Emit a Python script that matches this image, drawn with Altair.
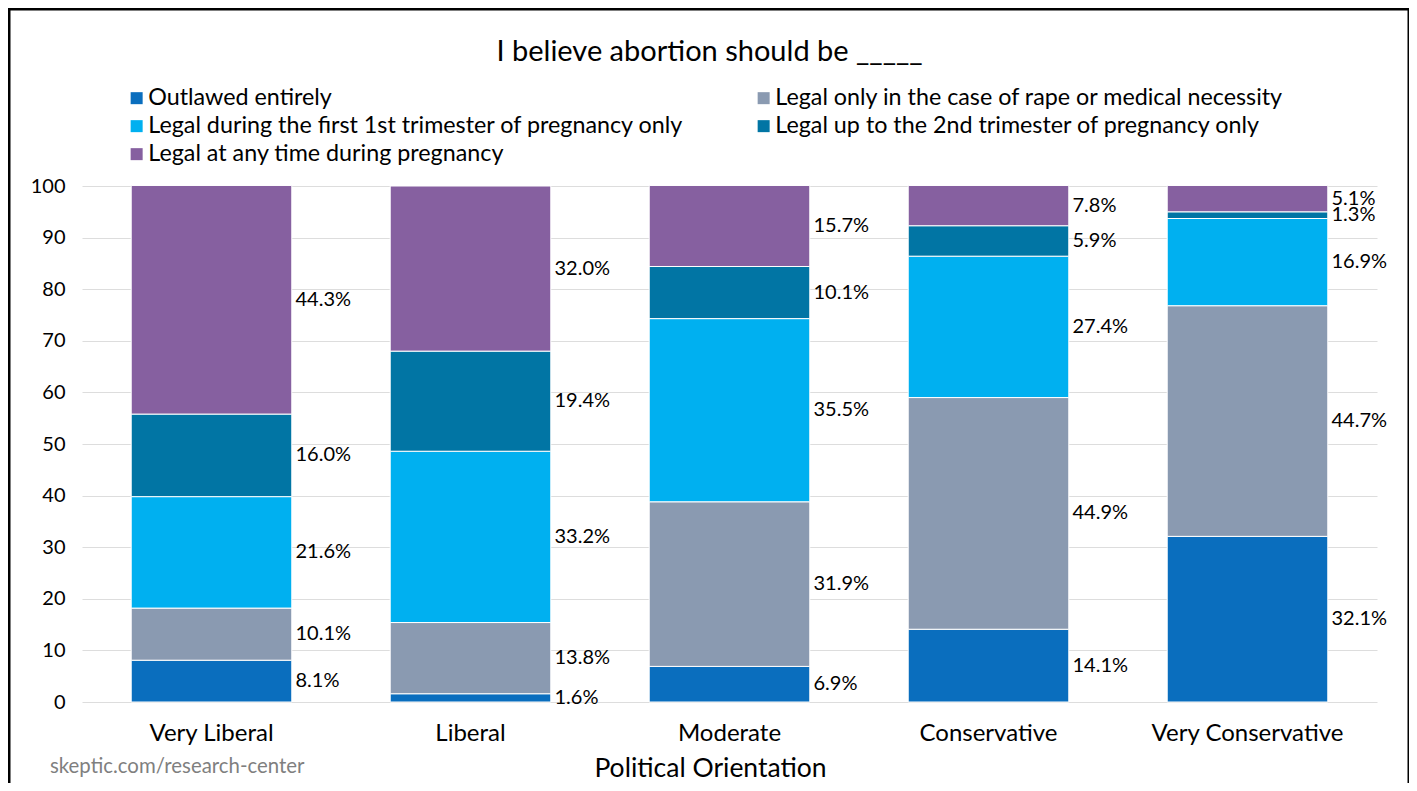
import altair as alt
import pandas as pd

categories = ["Very Liberal", "Liberal", "Moderate", "Conservative", "Very Conservative"]
series = [
    "Outlawed entirely",
    "Legal only in the case of rape or medical necessity",
    "Legal during the first 1st trimester of pregnancy only",
    "Legal up to the 2nd trimester of pregnancy only",
    "Legal at any time during pregnancy",
]
outlawed = [8.1, 1.6, 6.9, 14.1, 32.1]
rape_medical = [10.1, 13.8, 31.9, 44.9, 44.7]
first_trimester = [21.6, 33.2, 35.5, 27.4, 16.9]
second_trimester = [16.0, 19.4, 10.1, 5.9, 1.3]
any_time = [44.3, 32.0, 15.7, 7.8, 5.1]
colors = ["#0A6EBE", "#8A9AB1", "#00B0F0", "#0175A4", "#8660A0"]
y_ticks = list(range(0, 101, 10))

title_text = "I believe abortion should be _____"
x_title = "Political Orientation"
footer_text = "skeptic.com/research-center"

rows = []
for si, (name, vals) in enumerate(zip(series, [outlawed, rape_medical, first_trimester, second_trimester, any_time])):
    for c, v in zip(categories, vals):
        rows.append({"category": c, "series": name, "value": v, "order": si, "label": f"{v:.1f}%"})
df = pd.DataFrame(rows)

# legend fills column-major; reorder so it reads row-major like the reference
legend_idx = [0, 2, 4, 1, 3]
legend_domain = [series[i] for i in legend_idx]
legend_range = [colors[i] for i in legend_idx]

W, H = 1295, 516
FONT = "Lato"

x_enc = alt.X(
    "category:N",
    sort=categories,
    scale=alt.Scale(paddingInner=0.38, paddingOuter=0.19),
    axis=alt.Axis(
        title=x_title, labelAngle=0, labelFontSize=24, labelFont=FONT, labelColor="black",
        labelPadding=19, labelLimit=0, ticks=False, domain=False, grid=False,
        titleFontSize=26.5, titleFont=FONT, titleFontWeight="normal", titleColor="black",
        titleX=628, titleY=66, titleBaseline="middle", titleAlign="center",
    ),
)

bars = alt.Chart(df).mark_bar(stroke="white", strokeWidth=1).encode(
    x=x_enc,
    y=alt.Y(
        "value:Q", stack="zero",
        scale=alt.Scale(domain=[0, 100], nice=False),
        axis=alt.Axis(values=y_ticks, title=None, labelFontSize=20, labelFont=FONT, labelColor="black",
                      labelPadding=17, ticks=False, domain=False, gridColor="#DDDDDD", gridWidth=1),
    ),
    color=alt.Color(
        "series:N",
        scale=alt.Scale(domain=legend_domain, range=legend_range),
        legend=alt.Legend(
            title=None, orient="none", legendX=43, legendY=-99.5, columns=2, columnPadding=68,
            symbolType="square", symbolSize=144, symbolStrokeWidth=0, labelFontSize=23.3,
            labelFont=FONT, labelColor="black", labelLimit=0, rowPadding=4, labelOffset=0, padding=0,
        ),
    ),
    order=alt.Order("order:Q"),
)

labels = alt.Chart(df).transform_window(
    cum="sum(value)", groupby=["category"], sort=[alt.SortField("order")], frame=[None, 0]
).transform_calculate(
    mid="datum.cum - datum.value / 2"
).mark_text(align="left", baseline="middle", dx=84, fontSize=20, font=FONT, color="black").encode(
    x=alt.X("category:N", sort=categories),
    y=alt.Y("mid:Q"),
    text="label:N",
)

footer = alt.Chart(pd.DataFrame({"t": [footer_text]})).mark_text(
    align="left", baseline="middle", fontSize=20.4, font=FONT, color="#7F7F7F"
).encode(x=alt.value(-32), y=alt.value(581), text="t:N")

border = alt.Chart(pd.DataFrame({"b": [0]})).mark_rect(
    fillOpacity=0, stroke="black", strokeWidth=3
).encode(x=alt.value(-73), x2=alt.value(1327), y=alt.value(-177), y2=alt.value(640))

chart = alt.layer(border, bars, labels, footer).properties(
    width=W, height=H,
    title=alt.TitleParams(text=title_text, fontSize=29, font=FONT, fontWeight="normal", color="black",
                          anchor="middle", dx=-20, dy=59, offset=0),
    autosize=alt.AutoSizeParams(type="none"),
    padding={"left": 74, "top": 178, "right": 32, "bottom": 81},
).configure_view(stroke=None)

chart.save("out.html", embed_options={"renderer": "svg", "actions": False})
